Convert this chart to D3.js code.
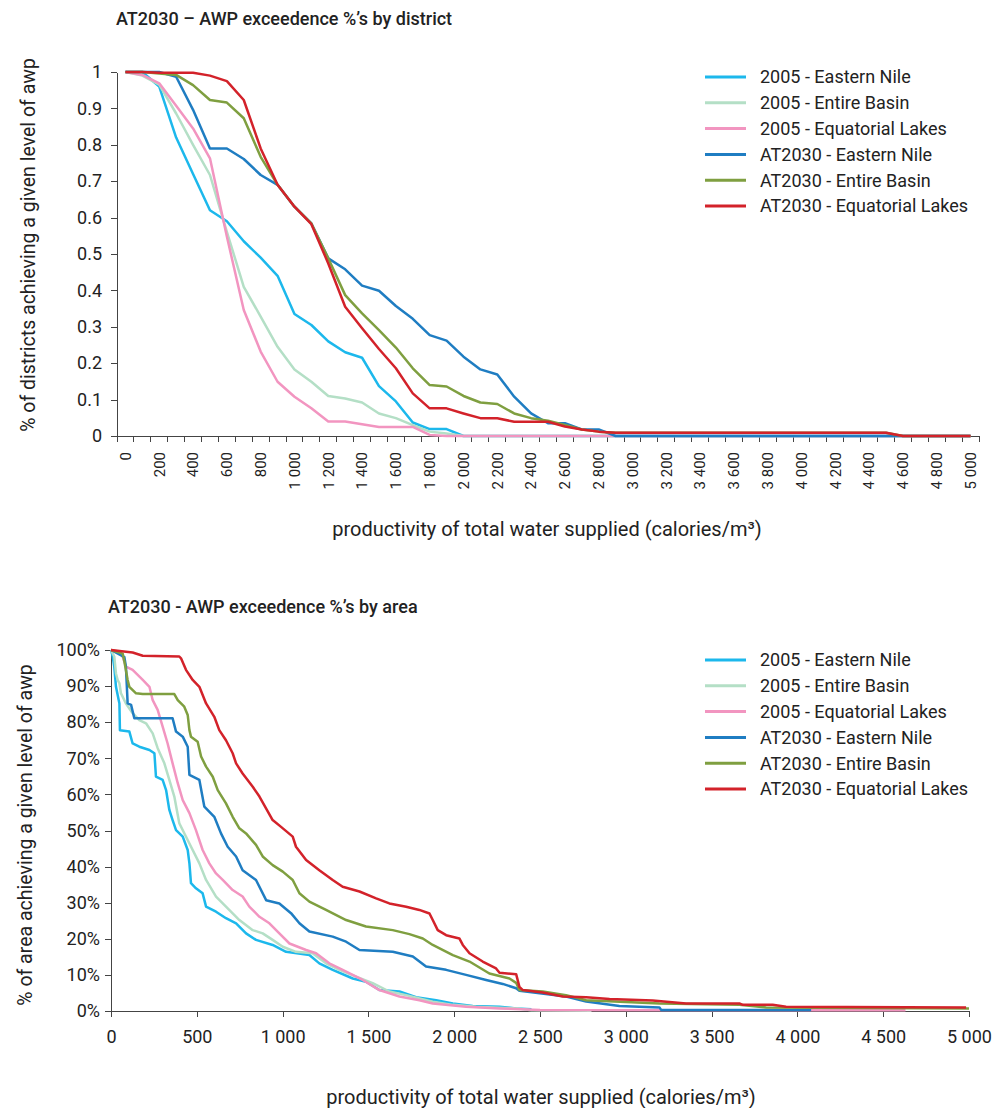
<!DOCTYPE html>
<html lang="en">
<head>
<meta charset="UTF-8">
<title>AWP exceedence</title>
<script src="https://cdn.jsdelivr.net/npm/d3@7"></script>
<style>
body{margin:0;background:#fff;}
svg{display:block;font-family:Roboto,"Noto Sans",sans-serif;}
.axis path,.axis line{stroke:#444;shape-rendering:crispEdges;}
.axis text{fill:#222;font-family:Roboto,"Noto Sans",sans-serif;}
.series{fill:none;stroke-width:2.5;stroke-linejoin:round;}
.title{font-weight:500;fill:#222;}
.label{fill:#222;}
</style>
</head>
<body>
<div id="root"></div>
<script>
// legend names + colours (same for both charts)
let seriesNames = ["2005 - Eastern Nile","2005 - Entire Basin","2005 - Equatorial Lakes",
                   "AT2030 - Eastern Nile","AT2030 - Entire Basin","AT2030 - Equatorial Lakes"]
let seriesColors = ["#1cb8ec","#b4dfc6","#f295c0","#1f7dc2","#7f9f40","#d3222a"]

// ---- top chart: by district (categories every 100) ----
let xCats = [0,100,200,300,400,500,600,700,800,900,
  1000,1100,1200,1300,1400,1500,1600,1700,1800,1900,
  2000,2100,2200,2300,2400,2500,2600,2700,2800,2900,
  3000,3100,3200,3300,3400,3500,3600,3700,3800,3900,
  4000,4100,4200,4300,4400,4500,4600,4700,4800,4900,
  5000]
let xLabelsTop = [0,200,400,600,800,1000,1200,1400,1600,1800,2000,2200,2400,
  2600,2800,3000,3200,3400,3600,3800,4000,4200,4400,4600,4800,5000]
let yTicksTop = [0,0.1,0.2,0.3,0.4,0.5,0.6,0.7,0.8,0.9,1]

let distEN2005 = [1,1,0.96,0.82,0.72,0.62,0.59,0.535,0.49,0.44,
  0.335,0.305,0.26,0.23,0.215,0.137,0.095,0.037,0.019,0.019,
  0,0,0,0,0,0,0,0,0,0,
  0,0,0,0,0,0,0,0,0,0,
  0,0,0,0,0,0,0,0,0,0,
  0]
let distEB2005 = [1,0.99,0.965,0.886,0.8,0.717,0.561,0.41,0.328,0.245,
  0.183,0.149,0.11,0.103,0.092,0.062,0.049,0.03,0.012,0.007,
  0,0,0,0,0,0,0,0,0,0,
  0,0,0,0,0,0,0,0,0,0,
  0,0,0,0,0,0,0,0,0,0,
  0]
let distEL2005 = [1,0.992,0.969,0.907,0.845,0.763,0.548,0.346,0.232,0.149,
  0.108,0.076,0.04,0.04,0.032,0.025,0.025,0.025,0.003,0,
  0,0,0,0,0,0,0,0,0,0,
  0,0,0,0,0,0,0,0,0,0,
  0,0,0,0,0,0,0,0,0,0,
  0]
let distEN2030 = [1,1,1,0.987,0.896,0.79,0.79,0.761,0.717,0.69,
  0.63,0.584,0.488,0.458,0.413,0.399,0.357,0.322,0.277,0.262,
  0.218,0.183,0.169,0.108,0.062,0.035,0.035,0.018,0.018,0,
  0,0,0,0,0,0,0,0,0,0,
  0,0,0,0,0,0,0,0,0,0,
  0]
let distEB2030 = [1,1,0.996,0.992,0.964,0.923,0.916,0.873,0.767,0.69,
  0.63,0.584,0.488,0.387,0.337,0.291,0.243,0.186,0.14,0.136,
  0.11,0.092,0.088,0.062,0.049,0.042,0.03,0.018,0.012,0.009,
  0.009,0.009,0.009,0.009,0.009,0.009,0.009,0.009,0.009,0.009,
  0.009,0.009,0.009,0.009,0.009,0.009,0,0,0,0,
  0]
let distEL2030 = [1,1,0.998,0.998,0.998,0.99,0.975,0.923,0.79,0.69,
  0.63,0.582,0.474,0.355,0.296,0.239,0.186,0.117,0.076,0.076,
  0.062,0.049,0.049,0.039,0.039,0.039,0.026,0.018,0.012,0.009,
  0.009,0.009,0.009,0.009,0.009,0.009,0.009,0.009,0.009,0.009,
  0.009,0.009,0.009,0.009,0.009,0.009,0,0,0,0,
  0]

// ---- bottom chart: by area, [productivity, % of area] ----
let xTicksBottom = [0,500,1000,1500,2000,2500,3000,3500,4000,4500,5000]
let yTicksBottom = [0,10,20,30,40,50,60,70,80,90,100]

let areaEN2005 = [[0,100],[10,98.2],[19,95.4],[29,89.8],[49,85.2],[52,77.8],[107,77.4],[126,74.1],
  [165,73.2],[224,72.3],[253,71.4],[262,64.9],[301,64],[321,61.2],[340,55.7],[359,52.9],[379,50.1],
  [418,48.3],[447,44.6],[457,40.9],[466,35.4],[495,34],[534,32.6],[554,28.9],[612,27.5],[670,25.7],
  [729,24.3],[787,21.5],[845,19.7],[942,18.3],[1020,16.4],[1156,15.5],[1214,13.2],[1292,11.4],
  [1409,9],[1486,8.1],[1564,5.8],[1681,5.4],[1778,3.8],[1895,3],[1992,2.1],[2108,1.4],[2264,1.2],
  [2361,0.7],[2450,0.5]]
let areaEB2005 = [[0,100],[19,98.2],[29,93.5],[39,91.7],[49,90.8],[58,88],[87,85.2],[126,82.5],
  [165,80.6],[204,79.7],[243,76.9],[272,72.8],[311,68.6],[340,64],[369,59.4],[398,52],[457,46.4],
  [515,40.9],[554,36.3],[612,31.7],[670,28.9],[748,25.2],[826,22.4],[884,21.5],[942,19.7],
  [1001,17.8],[1078,16.4],[1175,16],[1253,13.2],[1331,11.4],[1428,9.5],[1525,7.7],[1622,5.4],
  [1720,4.4],[1797,3.5],[1875,2.6],[1992,1.7],[2128,1.2],[2370,0.7],[2450,0.2],[2800,0.1]]
let areaEL2005 = [[0,100],[49,99.5],[68,98.2],[87,95.4],[126,94.5],[185,91.7],[224,89.8],[243,86.1],
  [272,83.4],[301,78.8],[330,74.1],[359,68.6],[389,63.1],[418,58.4],[457,54.8],[495,50.1],[534,44.6],
  [573,40.9],[612,38.1],[651,36.3],[709,33.5],[767,31.7],[806,28.9],[865,26.1],[923,24.3],[981,21.5],
  [1040,18.7],[1137,16.9],[1195,16],[1272,13.2],[1350,11.4],[1467,8.6],[1564,5.8],[1681,4],[1797,3],
  [1875,2.1],[2069,1.2],[2264,0.7],[2500,0.3],[4630,0.2]]
let areaEN2030 = [[0,100],[78,98],[87,95.4],[97,85.2],[117,84.8],[136,81.1],[359,81.1],[379,77.4],
  [418,76],[447,73.2],[457,65.4],[515,64],[544,56.6],[602,53.8],[641,49.2],[680,45.5],[729,42.8],
  [767,39],[845,36.3],[904,30.7],[981,29.8],[1049,27.1],[1098,24.3],[1156,22],[1292,20.6],[1370,19.2],
  [1448,16.9],[1642,16.4],[1759,15.1],[1836,12.3],[1953,11.4],[2069,10],[2186,8.6],[2283,7.5],
  [2361,6.3],[2380,5.6],[2652,4],[2769,2.6],[2963,1.4],[3196,1],[3206,0.3],[4080,0.3]]
let areaEB2030 = [[0,100],[68,99],[78,96.8],[97,91.7],[107,89.8],[146,88],[185,87.8],[369,87.8],
  [389,86.1],[427,84.3],[447,82],[457,77.8],[466,76],[505,74.6],[525,70.5],[554,67.7],[593,64.9],
  [622,61.2],[670,57.5],[709,53.8],[748,50.6],[787,49.2],[845,46],[884,42.8],[942,40.4],[1001,38.6],
  [1059,36.3],[1098,32.6],[1156,30.3],[1253,28],[1370,25.2],[1486,23.4],[1642,22.4],[1739,21.3],
  [1817,20.1],[1875,18.3],[1992,15.5],[2089,13.7],[2205,10.4],[2322,9],[2361,7.8],[2380,5.8],
  [2516,5.4],[2652,4.4],[2769,3],[3196,2.1],[3662,1.7],[3818,1],[5000,0.7]]
let areaEL2030 = [[0,100],[126,99.3],[185,98.4],[398,98.2],[408,97.7],[437,94.5],[476,91.7],[515,89.8],
  [554,85.2],[602,81.5],[631,77.8],[670,75],[709,71.4],[729,68.6],[767,65.8],[826,62.1],[865,59.4],
  [942,52.9],[991,51],[1059,48.3],[1078,45.5],[1137,41.8],[1214,39],[1292,36.3],[1350,34.4],
  [1448,33.1],[1545,31.2],[1622,29.8],[1720,28.9],[1797,28],[1856,27],[1875,25.2],[1904,22.4],
  [1953,21],[2030,20.1],[2050,18.3],[2089,16],[2166,13.7],[2244,11.8],[2264,10.6],[2361,10.2],
  [2380,6.7],[2400,5.8],[2516,5.1],[2633,4],[2769,3.8],[2905,3.3],[3157,2.9],[3351,2.1],[3662,2.1],
  [3681,1.7],[3856,1.7],[3934,1.2],[4983,1]]

let distSeries = [distEN2005,distEB2005,distEL2005,distEN2030,distEB2030,distEL2030]
let areaSeries = [areaEN2005,areaEB2005,areaEL2005,areaEN2030,areaEB2030,areaEL2030]

let width = 992, height = 1108
let fmt = d3.formatLocale({decimal:".",thousands:" ",grouping:[3],currency:["",""]}).format(",")

let svg = d3.select("#root").append("svg").attr("width",width).attr("height",height)

function renderLegend(top) {
    let g = svg.append("g").attr("class","legend")
    seriesNames.forEach(function (name,i) {
        let yy = top + i*25.8
        g.append("line").attr("x1",705).attr("x2",746).attr("y1",yy).attr("y2",yy)
            .attr("stroke",seriesColors[i]).attr("stroke-width",3)
        g.append("text").attr("class","label").attr("x",760).attr("y",yy).attr("dy","0.35em")
            .style("font-size","18px").text(name)
    })
}

function renderTop() {
    let left = 117, right = 979, top = 72, bottom = 436
    let x = d3.scaleBand().domain(xCats).range([left,right])
    let y = d3.scaleLinear().domain([0,1]).range([bottom,top])

    // x axis: labels at band centres, ticks at band edges
    let xg = svg.append("g").attr("class","axis x-axis").attr("transform","translate(0,"+bottom+")")
        .call(d3.axisBottom(x).tickValues(xLabelsTop).tickSize(0).tickSizeOuter(0).tickFormat(fmt))
    xg.selectAll("text").attr("transform","rotate(-90)").attr("x",-16).attr("y",0)
        .attr("dy","0.35em").style("text-anchor","end").style("font-size","15px")
    let edges = xCats.map(function (c) { return x(c) }).concat([x.range()[1]])
    xg.selectAll("line.edge").data(edges).enter().append("line").attr("class","edge")
        .attr("x1",d=>d).attr("x2",d=>d).attr("y1",0).attr("y2",6)

    svg.append("g").attr("class","axis y-axis").attr("transform","translate("+left+",0)")
        .call(d3.axisLeft(y).tickValues(yTicksTop).tickSize(6).tickPadding(9).tickSizeOuter(0).tickFormat(d=>d))
        .selectAll("text").style("font-size","18px")

    let line = d3.line().x((d,i)=>x(xCats[i])+x.bandwidth()/2).y(d=>y(d))
    distSeries.forEach(function (s,i) {
        svg.append("path").attr("class","series").attr("d",line(s)).attr("stroke",seriesColors[i])
    })

    svg.append("text").attr("class","title").attr("x",116).attr("y",25).style("font-size","18px")
        .text("AT2030 – AWP exceedence %’s by district")
    svg.append("text").attr("class","label").attr("transform","translate(35,245) rotate(-90)")
        .style("text-anchor","middle").style("font-size","19.5px")
        .text("% of districts achieving a given level of awp")
    svg.append("text").attr("class","label").attr("x",547).attr("y",536)
        .style("text-anchor","middle").style("font-size","20px")
        .text("productivity of total water supplied (calories/m³)")
    renderLegend(77)
}

function renderBottom() {
    let left = 111, right = 969, top = 650, bottom = 1011
    let x = d3.scaleLinear().domain([0,5000]).range([left,right])
    let y = d3.scaleLinear().domain([0,100]).range([bottom,top])

    svg.append("g").attr("class","axis x-axis").attr("transform","translate(0,"+bottom+")")
        .call(d3.axisBottom(x).tickValues(xTicksBottom).tickSize(6).tickPadding(13).tickSizeOuter(0).tickFormat(fmt))
        .selectAll("text").style("font-size","18px")
    svg.append("g").attr("class","axis y-axis").attr("transform","translate("+left+",0)")
        .call(d3.axisLeft(y).tickValues(yTicksBottom).tickSize(6).tickPadding(5).tickSizeOuter(0).tickFormat(d=>d+"%"))
        .selectAll("text").style("font-size","18px")

    let line = d3.line().x(d=>x(d[0])).y(d=>y(d[1]))
    areaSeries.forEach(function (s,i) {
        svg.append("path").attr("class","series").attr("d",line(s)).attr("stroke",seriesColors[i])
    })

    svg.append("text").attr("class","title").attr("x",108).attr("y",613).style("font-size","18px")
        .text("AT2030 - AWP exceedence %’s by area")
    svg.append("text").attr("class","label").attr("transform","translate(32,835) rotate(-90)")
        .style("text-anchor","middle").style("font-size","19.5px")
        .text("% of area achieving a given level of awp")
    svg.append("text").attr("class","label").attr("x",541).attr("y",1104)
        .style("text-anchor","middle").style("font-size","20px")
        .text("productivity of total water supplied (calories/m³)")
    renderLegend(660)
}

renderTop()
renderBottom()
</script>
</body>
</html>
